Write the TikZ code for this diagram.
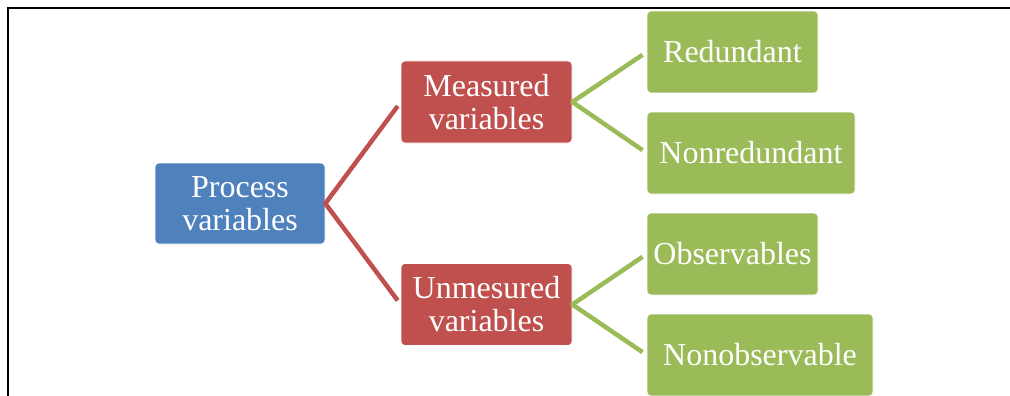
\documentclass[tikz,border=0pt]{standalone}
\usepackage{fontspec}
\setmainfont{Liberation Serif}
\usepackage{tikz}
\usetikzlibrary{positioning}
\definecolor{procblue}{HTML}{4F81BD}
\definecolor{varred}{HTML}{C0504D}
\definecolor{leafgreen}{HTML}{9BBB59}
\begin{document}
\begin{tikzpicture}[x=1pt,y=-1pt]
			\useasboundingbox (0,0) rectangle (1010,396);
			\draw[line width=1.5pt] (1010,8) -- (8,8) -- (8,396);
			\begin{scope}[every node/.style={rounded corners=4pt,draw=white,line width=0.6pt,text=white,
				font=\fontsize{32}{33}\selectfont,align=center,inner sep=0pt,minimum height=82pt}]
		    \node[fill=procblue,minimum width=170pt,minimum height=81pt] (P) at (240,203.5) {Process\\variables};
		    \node[fill=varred,minimum width=171pt] (M) at (486.5,102) {Measured\\variables};
		    \node[fill=varred,minimum width=171pt] (U) at (486.5,304.5) {Unmesured\\variables};
		    \node[fill=leafgreen,minimum width=171pt] (R) at (732.5,52) {Redundant};
		    \node[fill=leafgreen,minimum width=208pt] (N) at (751,153) {Nonredundant};
		    \node[fill=leafgreen,minimum width=171pt] (O) at (732.5,254) {Observables};
		    \node[fill=leafgreen,minimum width=226pt] (NO) at (760,355) {Nonobservable};
			\end{scope}
			\begin{scope}[every edge/.style={draw=varred,line width=4.5pt,shorten <=-1pt,shorten >=5pt}]
		    \path (P.east) edge (M.west);
		    \path (P.east) edge (U.west);
			\end{scope}
			\begin{scope}[every edge/.style={draw=leafgreen,line width=4.5pt,shorten <=-1pt,shorten >=5pt}]
		    \path (M.east) edge (R.west);
		    \path (M.east) edge (R.west |- N.west);
		    \path (U.east) edge (O.west);
		    \path (U.east) edge (O.west |- NO.west);
	    \end{scope}
    \end{tikzpicture}
\end{document}
